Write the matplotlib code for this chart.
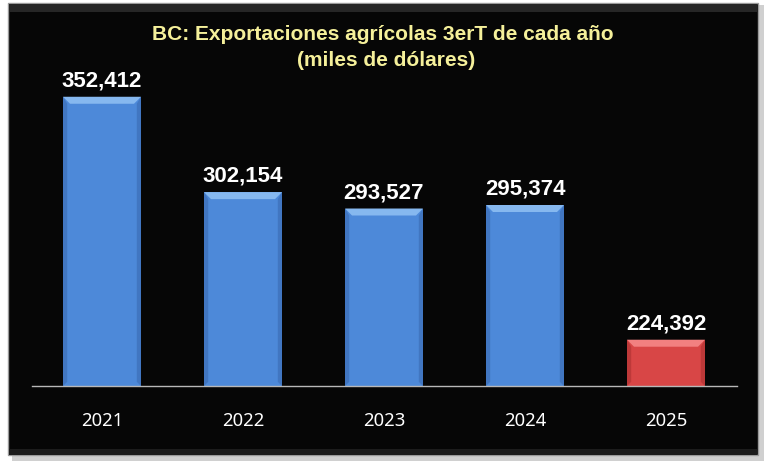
import numpy as np
import matplotlib
matplotlib.use("Agg")
import matplotlib.pyplot as plt
from matplotlib.patches import Rectangle, Polygon

years = ["2021", "2022", "2023", "2024", "2025"]
exports = [352412, 302154, 293527, 295374, 224392]
title_1 = "BC: Exportaciones agrícolas 3erT de cada año"
title_2 = "(miles de dólares)"

W, H = 769, 468
fig = plt.figure(figsize=(W / 100, H / 100), dpi=100)
fig.patch.set_facecolor("white")

# shadow + black panel (kept below the axes)
panel = [
    Rectangle((12 / W, 1 - 461 / H), 752 / W, 456 / H, facecolor="#d0d0d0",
              edgecolor="none", zorder=-3),
    Rectangle((8 / W, 1 - 455 / H), 750 / W, 452 / H, facecolor="#060606",
              edgecolor="#9a9a9a", linewidth=1.0, zorder=-2),
    Rectangle((9 / W, 1 - 12 / H), 748 / W, 8 / H, facecolor="#262626",
              edgecolor="none", zorder=-1),
    Rectangle((9 / W, 1 - 455 / H), 748 / W, 6 / H, facecolor="#1c1c1c",
              edgecolor="none", zorder=-1),
]
for p in panel:
    p.set_transform(fig.transFigure)
    fig.patches.append(p)

ax = fig.add_axes([31.5 / W, (H - 386) / H, 705 / W, 341.6 / H])
ax.set_zorder(1)
ax.set_facecolor("none")
ymin, ymax = 200000, 380000
ax.set_xlim(-0.5, len(years) - 0.5)
ax.set_ylim(ymin, ymax)

x = np.arange(len(years))
colors = ["#4d89d9"] * (len(years) - 1) + ["#d84646"]
tops = ["#86b8ef"] * (len(years) - 1) + ["#f28080"]
sides = ["#3c6fb8"] * (len(years) - 1) + ["#b23434"]
width = 0.553
bars = ax.bar(x, np.array(exports) - ymin, bottom=ymin, width=width,
              color=colors, edgecolor="none", zorder=2)

# bevel effect, pixel sizes converted to data units
px_y = (ymax - ymin) / 341.6
px_x = len(years) / 705
for b, top_c, side_c in zip(bars, tops, sides):
    x0, x1 = b.get_x(), b.get_x() + b.get_width()
    y0 = b.get_y()
    y1 = y0 + b.get_height()
    bx, by = 7 * px_x, 7 * px_y
    ax.add_patch(Polygon([(x0, y1), (x1, y1), (x1 - bx, y1 - by), (x0 + bx, y1 - by)],
                         closed=True, facecolor=top_c, edgecolor="none", zorder=3))
    for xe, sgn in ((x0, 1), (x1, -1)):
        ax.add_patch(Polygon([(xe, y0), (xe + sgn * bx * 0.6, y0 + by * 0.6),
                              (xe + sgn * bx * 0.6, y1 - by), (xe, y1)],
                             closed=True, facecolor=side_c, edgecolor="none",
                             zorder=3, alpha=0.7))

for xi, v in zip(x, exports):
    ax.annotate(f"{v:,}", (xi, v), xytext=(0, 7.5), textcoords="offset points",
                ha="center", va="baseline", color="white", fontsize=16,
                fontweight="bold", family="Liberation Sans", zorder=4)

for s in ["top", "right", "left"]:
    ax.spines[s].set_visible(False)
ax.spines["bottom"].set_color("#b8b8b8")
ax.spines["bottom"].set_linewidth(1.0)
ax.set_yticks([])
ax.set_xticks(x)
ax.set_xticklabels(years, color="white", fontsize=13.3, family="Noto Sans")
ax.tick_params(axis="x", length=0, pad=19)

fig.text(383 / W, 1 - 35 / H, title_1, ha="center", va="center", color="#f5f09a",
         fontsize=15, fontweight="bold", family="Liberation Sans")
fig.text(386 / W, 1 - 60 / H, title_2, ha="center", va="center", color="#f5f09a",
         fontsize=15, fontweight="bold", family="Liberation Sans")

fig.savefig("out.png", dpi=100, facecolor=fig.get_facecolor())
